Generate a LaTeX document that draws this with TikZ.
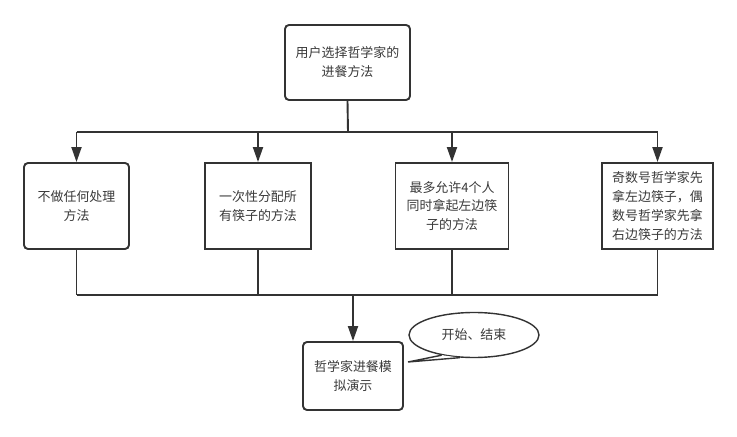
\documentclass[tikz,border=0pt]{standalone}
\usepackage{fontspec}
\newfontfamily\cjk{Noto Sans CJK SC}
\usetikzlibrary{arrows.meta,shapes.geometric}
\definecolor{linec}{HTML}{333333}
\definecolor{textc}{HTML}{3A3A3A}
\begin{document}
\begin{tikzpicture}[x=1bp,y=-1bp,
  box/.style={draw=linec, line width=1.9bp, fill=white, align=center,
    font=\cjk\fontsize{13}{19}\selectfont, text=textc, inner sep=0pt},
  rbox/.style={box, rounded corners=4bp},
  conn/.style={draw=linec, line width=1.9bp},
  arr/.style={conn, -{Triangle[length=15bp,width=10bp]}}]
\useasboundingbox[fill=white] (0,0) rectangle (737,437);

\node[rbox, minimum width=125bp, minimum height=75bp] (top) at (347.5,62.5) {用户选择哲学家的\\进餐方法};
\node[rbox, minimum width=105bp, minimum height=86bp] (b1) at (76.5,206) {不做任何处理\\方法};
\node[box, minimum width=106bp, minimum height=86bp] (b2) at (258,206) {一次性分配所\\有筷子的方法};
\node[box, minimum width=113bp, minimum height=86bp] (b3) at (452,206) {最多允许4个人\\同时拿起左边筷\\子的方法};
\node[box, minimum width=111bp, minimum height=86bp] (b4) at (657.5,206) {奇数号哲学家先\\拿左边筷子，偶\\数号哲学家先拿\\右边筷子的方法};
\node[rbox, minimum width=100bp, minimum height=68bp] (b5) at (353,376) {哲学家进餐模\\拟演示};

% top distribution
\coordinate (j1) at (348,132);
\coordinate (j1l) at (76.5,132);
\coordinate (j1r) at (657.5,132);
\draw[conn] (top.south) -- (j1);
\draw[conn] (j1l) -- (j1r);
\draw[arr] (j1l) -- (b1.north);
\draw[arr] (b2.north |- j1) -- (b2.north);
\draw[arr] (b3.north |- j1) -- (b3.north);
\draw[arr] (j1r) -- (b4.north);

% bottom collection
\coordinate (j2l) at (76.5,295);
\coordinate (j2r) at (657.5,295);
\coordinate (j2) at (353,295);
\draw[conn] (b1.south) -- (j2l);
\draw[conn] (b2.south) -- (b2.south |- j2);
\draw[conn] (b3.south) -- (b3.south |- j2);
\draw[conn] (b4.south) -- (j2r);
\draw[conn] (j2l) -- (j2r);
\draw[arr] (j2) -- (b5.north);

% callout
\node[ellipse, draw=linec, line width=1.4bp, fill=white, minimum width=130bp, minimum height=45bp, inner sep=0pt,
  font=\cjk\fontsize{13}{19}\selectfont, text=textc] (call) at (474,335) {开始、结束};
\coordinate (tip) at (408,362);
\fill[white] (call.212) -- (tip) -- (call.238) -- cycle;
\draw[linec, line width=1.4bp, line join=miter] (call.212) -- (tip) -- (call.238);
\end{tikzpicture}
\end{document}
